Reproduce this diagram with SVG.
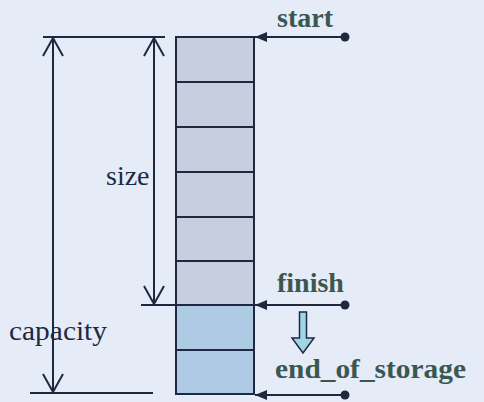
<svg xmlns="http://www.w3.org/2000/svg" width="484" height="402" viewBox="0 0 484 402">
<defs>
<style>
.cellA{fill:#c7cedf;stroke:#1e2940;stroke-width:2}
.cellB{fill:#afcae5;stroke:#1e2940;stroke-width:2}
.dim{stroke:#1e2940;stroke-width:2;fill:none}
.ptr{stroke:#1e2940;stroke-width:2;fill:none}
.lbl{font-family:"Liberation Serif",serif;font-weight:bold;font-size:28px;fill:#3b5850}
.dlbl{font-family:"Liberation Serif",serif;font-size:28px;fill:#1e2940}
</style>
<marker id="tip" viewBox="0 0 12 10" refX="12" refY="5" markerWidth="12" markerHeight="10" markerUnits="userSpaceOnUse" orient="auto">
<path d="M0,0 L12,5 L0,10 Z" fill="#1e2940"/>
</marker>
</defs>
<rect width="484" height="402" fill="#e5ecf8"/>
<g id="vector">
<rect class="cellA" x="176" y="37" width="78" height="45"/>
<rect class="cellA" x="176" y="82" width="78" height="45"/>
<rect class="cellA" x="176" y="127" width="78" height="45"/>
<rect class="cellA" x="176" y="172" width="78" height="45"/>
<rect class="cellA" x="176" y="217" width="78" height="44"/>
<rect class="cellA" x="176" y="261" width="78" height="44"/>
<rect class="cellB" x="176" y="305" width="78" height="45"/>
<rect class="cellB" x="176" y="350" width="78" height="44"/>
</g>
<g id="dimensions">
<line class="dim" x1="43" y1="37" x2="165" y2="37"/>
<line class="dim" x1="30" y1="393" x2="153" y2="393"/>
<line class="dim" x1="141" y1="305" x2="176" y2="305"/>
<line class="dim" x1="53" y1="38" x2="53" y2="392"/>
<path class="dim" d="M43,56 L53,38 L63,56"/>
<path class="dim" d="M43,374 L53,392 L63,374"/>
<line class="dim" x1="154" y1="38" x2="154" y2="304"/>
<path class="dim" d="M144,56 L154,38 L164,56"/>
<path class="dim" d="M144,286 L154,304 L164,286"/>
<text class="dlbl" x="106" y="185">size</text>
<text class="dlbl" x="9" y="340" textLength="98" lengthAdjust="spacingAndGlyphs">capacity</text>
</g>
<g id="connectors">
<line class="ptr" x1="345" y1="37" x2="255" y2="37" marker-end="url(#tip)"/>
<circle cx="345" cy="37" r="4.5" fill="#1e2940"/>
<line class="ptr" x1="345" y1="305" x2="255" y2="305" marker-end="url(#tip)"/>
<circle cx="345" cy="305" r="4.5" fill="#1e2940"/>
<line class="ptr" x1="345" y1="395" x2="255" y2="395" marker-end="url(#tip)"/>
<circle cx="345" cy="395" r="4.5" fill="#1e2940"/>
<path d="M299.5,312 L306.5,312 L306.5,338 L314,338 L303,353 L292,338 L299.5,338 Z" fill="#9fd6e6" stroke="#1e2940" stroke-width="1.5" stroke-linejoin="miter"/>
</g>
<g id="start"><text class="lbl" x="277" y="27">start</text></g>
<g id="finish"><text class="lbl" x="277" y="292">finish</text></g>
<g id="end_of_storage"><text class="lbl" x="275" y="378" textLength="191" lengthAdjust="spacingAndGlyphs">end_of_storage</text></g>
</svg>
